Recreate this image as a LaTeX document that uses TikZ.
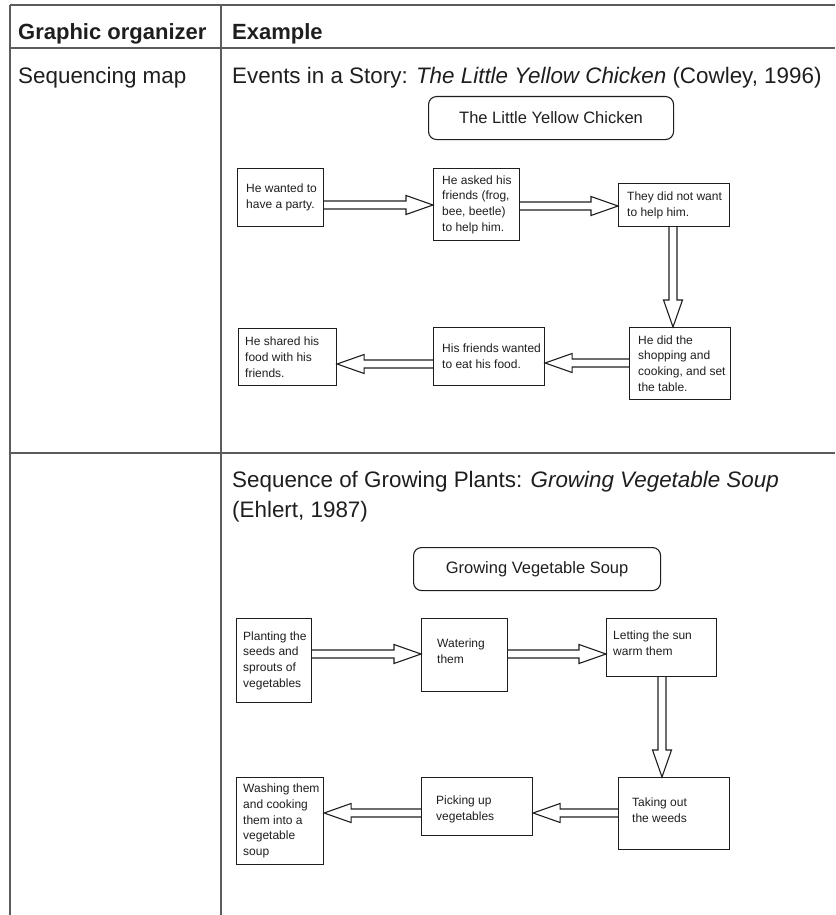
\documentclass[tikz,border=0pt]{standalone}
\usepackage{fontspec}
\setmainfont{Liberation Sans}
\usetikzlibrary{calc}
\definecolor{rule}{HTML}{5C5C5C}
\definecolor{ink}{HTML}{1E1E1E}
\newcommand\fatarrow[2]{%
  \coordinate (fa-h) at ($(#2)!27pt!(#1)$);
  \draw[fat] ($(#1)!4pt!90:(#2)$) -- ($(fa-h)!4pt!-90:(#1)$) -- ($(fa-h)!9.5pt!-90:(#1)$) -- (#2)
    -- ($(fa-h)!9.5pt!90:(#1)$) -- ($(fa-h)!4pt!90:(#1)$) -- ($(#1)!4pt!-90:(#2)$);
}
\newcommand\bx[5]{\node[box, minimum width=#4pt, minimum height=#5pt] (#1) at (#2,#3) {};}
\begin{document}
\begin{tikzpicture}[x=1pt,y=-1pt,
  rulel/.style={draw=rule, line width=1.4pt},
  box/.style={draw=ink, line width=1.1pt, inner sep=0pt, anchor=north west},
  tbox/.style={draw=ink, line width=1.1pt, rounded corners=8pt, inner sep=0pt, anchor=north west, font=\fontsize{16.5}{20}\selectfont, text=ink},
  txt/.style={anchor=west, align=left, inner sep=0pt, text=ink, font=\fontsize{12}{15.7}\selectfont},
  big/.style={anchor=base west, inner sep=0pt, text=ink, font=\fontsize{22.4}{30}\selectfont},
  fat/.style={draw=ink, line width=1.1pt, line join=miter}]
\useasboundingbox (0,0) rectangle (835,915);
% table rules
\draw[rulel] (10,5) -- (835,5);
\draw[rulel] (10,48) -- (835,48);
\draw[rulel] (10,453) -- (835,453);
\draw[rulel] (10,5) -- (10,915);
\draw[rulel] (221,5) -- (221,915);
% header
\node[big, font=\fontsize{22}{26}\selectfont\bfseries] (h1) at (18,40) {Graphic organizer};
\node[big, font=\fontsize{22}{26}\selectfont\bfseries] (h2) at (232,40) {Example};
\node[big] (r1) at (18,84) {Sequencing map};
\node[big] (e1) at (232,84) {Events in a Story: \textit{The Little Yellow Chicken} (Cowley, 1996)};
\node[big, align=left, anchor=north west] (e2) at (232,471) {Sequence of Growing Plants: \textit{Growing Vegetable Soup}\\(Ehlert, 1987)};
% title boxes
\node[tbox, minimum width=245pt, minimum height=43pt] (t1) at (428,96) {The Little Yellow Chicken};
\node[tbox, minimum width=247pt, minimum height=43pt] (t2) at (413,547) {Growing Vegetable Soup};
% row 1 boxes
\bx{b1}{237}{168}{86}{58}
\bx{b2}{433}{168}{86}{72}
\bx{b3}{618}{183}{111}{43}
\bx{b4}{629}{327}{101}{72}
\bx{b5}{433}{327}{111}{58}
\bx{b6}{238}{328}{98}{57}
\node[txt] (x1) at ([xshift=9pt]b1.west) {He wanted to\\have a party.};
\node[txt] (x2) at ([xshift=9pt]b2.west) {He asked his\\friends (frog,\\bee, beetle)\\to help him.};
\node[txt] (x3) at ([xshift=9pt]b3.west) {They did not want\\to help him.};
\node[txt] (x4) at ([xshift=9pt]b4.west) {He did the\\shopping and\\cooking, and set\\the table.};
\node[txt] (x5) at ([xshift=9pt]b5.west) {His friends wanted\\to eat his food.};
\node[txt] (x6) at ([xshift=7pt]b6.west) {He shared his\\food with his\\friends.};
% row 2 boxes
\bx{ga}{236}{618}{75}{84}
\bx{gb}{421}{618}{86}{73}
\bx{gc}{606}{618}{110}{58}
\bx{gd}{618}{777}{111}{72}
\bx{ge}{421}{777}{111}{58}
\bx{gf}{236}{777}{87}{87}
\node[txt] (ya) at ([xshift=7pt]ga.west) {Planting the\\seeds and\\sprouts of\\vegetables};
\node[txt] (yb) at ([xshift=16pt,yshift=4pt]gb.west) {Watering\\them};
\node[txt] (yc) at ([xshift=7pt,yshift=4pt]gc.west) {Letting the sun\\warm them};
\node[txt] (yd) at ([xshift=14pt,yshift=3pt]gd.west) {Taking out\\the weeds};
\node[txt] (ye) at ([xshift=15pt,yshift=-3pt]ge.west) {Picking up\\vegetables};
\node[txt] (yf) at ([xshift=7pt]gf.west) {Washing them\\and cooking\\them into a\\vegetable\\soup};
% arrow end points
\coordinate (p1s) at (b1.east |- 0,205); \coordinate (p1e) at (b2.west |- 0,205);
\coordinate (p2s) at (b2.east |- 0,206); \coordinate (p2e) at (b3.west |- 0,206);
\coordinate (p3s) at (b3.south -| 673,0); \coordinate (p3e) at (b4.north -| 673,0);
\coordinate (p4s) at (b4.west |- 0,363); \coordinate (p4e) at (b5.east |- 0,363);
\coordinate (p5s) at (b5.west |- 0,364); \coordinate (p5e) at (b6.east |- 0,364);
\coordinate (q1s) at (ga.east |- 0,654); \coordinate (q1e) at (gb.west |- 0,654);
\coordinate (q2s) at (gb.east |- 0,654); \coordinate (q2e) at (gc.west |- 0,654);
\coordinate (q3s) at (gc.south -| 662,0); \coordinate (q3e) at (gd.north -| 662,0);
\coordinate (q4s) at (gd.west |- 0,813); \coordinate (q4e) at (ge.east |- 0,813);
\coordinate (q5s) at (ge.west |- 0,813); \coordinate (q5e) at (gf.east |- 0,813);
\fatarrow{p1s}{p1e}
\fatarrow{p2s}{p2e}
\fatarrow{p3s}{p3e}
\fatarrow{p4s}{p4e}
\fatarrow{p5s}{p5e}
\fatarrow{q1s}{q1e}
\fatarrow{q2s}{q2e}
\fatarrow{q3s}{q3e}
\fatarrow{q4s}{q4e}
\fatarrow{q5s}{q5e}
\end{tikzpicture}
\end{document}
